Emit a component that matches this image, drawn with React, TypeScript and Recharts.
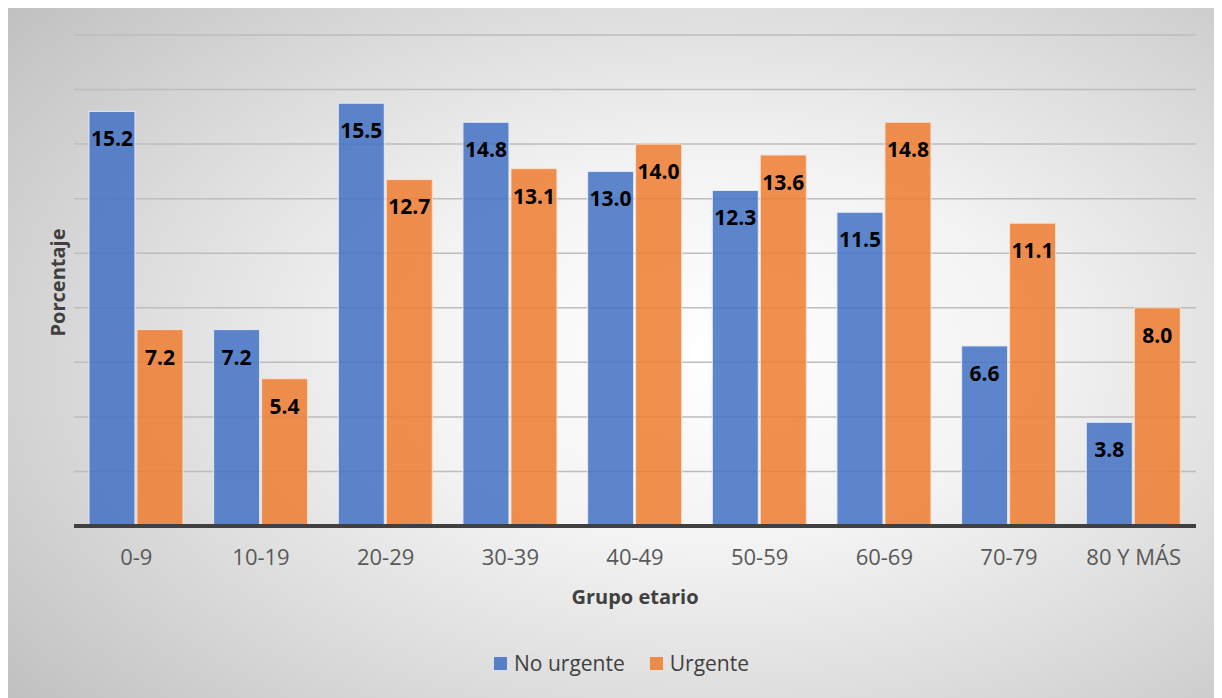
import React from "react";
import { BarChart, Bar, XAxis, YAxis, CartesianGrid, LabelList, Legend } from "recharts";

const categories = ["0-9", "10-19", "20-29", "30-39", "40-49", "50-59", "60-69", "70-79", "80 Y MÁS"];
const noUrgente = [15.2, 7.2, 15.5, 14.8, 13.0, 12.3, 11.5, 6.6, 3.8];
const urgente = [7.2, 5.4, 12.7, 13.1, 14.0, 13.6, 14.8, 11.1, 8.0];
const yTicks = [0, 2, 4, 6, 8, 10, 12, 14, 16, 18];

const seriesNames = ["No urgente", "Urgente"];
const BLUE = "#4472C4";
const ORANGE = "#ED7D31";

const data = categories.map((c, i) => ({ cat: c, noUrgente: noUrgente[i], urgente: urgente[i] }));

const FONT = "'Open Sans', sans-serif";

const LegendContent = () => (
  <div style={{ display: "flex", justifyContent: "center", alignItems: "center", height: 30, paddingLeft: 14, fontFamily: FONT, fontSize: 21, color: "#404040" }}>
    {[BLUE, ORANGE].map((col, i) => (
      <div key={i} style={{ display: "flex", alignItems: "center", marginLeft: i === 0 ? 0 : 25 }}>
        <span style={{ display: "inline-block", width: 13, height: 13, background: col, opacity: 0.88, marginRight: 7 }} />
        <span>{seriesNames[i]}</span>
      </div>
    ))}
  </div>
);

const EmptyTick = () => <g />;

export default function App() {
  return (
    <div
      style={{
        position: "relative",
        width: 1215,
        height: 693,
        marginLeft: -1,
        marginTop: -3,
        boxSizing: "border-box",
        borderTop: "2px solid #b8b8b8",
        borderLeft: "1px solid #c0c0c0",
        background: "radial-gradient(ellipse 75% 80% at 58% 50%, #ffffff 0%, #f3f3f3 35%, #dcdcdc 65%, #c0c0c0 100%)",
      }}
    >
      <BarChart
        width={1215}
        height={693}
        data={data}
        margin={{ top: 30, right: 26, left: 0, bottom: 20 }}
        barCategoryGap="12%"
        barGap={2}
        style={{ position: "absolute", left: -1, top: -2 }}
      >
        <CartesianGrid horizontal vertical={false} stroke="#bdbdbd" strokeWidth={1.5} />
        <XAxis
          dataKey="cat"
          height={122}
          tickLine={false}
          tickSize={0}
          tickMargin={23}
          axisLine={{ stroke: "#404040", strokeWidth: 4 }}
          tick={{ fill: "#595959", fontSize: 22, fontFamily: FONT }}
          interval={0}
          label={{
            content: (props: any) => {
              const vb = props.viewBox;
              return (
                <text
                  x={vb.x + vb.width / 2}
                  y={vb.y + 70}
                  textAnchor="middle"
                  dominantBaseline="central"
                  fill="#404040"
                  fontFamily={FONT}
                  fontWeight={700}
                  fontSize={20}
                >
                  Grupo etario
                </text>
              );
            },
          }}
        />
        <YAxis
          width={67}
          domain={[0, 18]}
          ticks={yTicks}
          interval={0}
          tick={<EmptyTick />}
          tickLine={false}
          axisLine={false}
          label={{
            content: (props: any) => {
              const vb = props.viewBox;
              const cx = vb.x + 50;
              const cy = vb.y + vb.height / 2 + 2;
              return (
                <text
                  x={cx}
                  y={cy}
                  transform={`rotate(-90 ${cx} ${cy})`}
                  textAnchor="middle"
                  dominantBaseline="central"
                  fill="#404040"
                  fontFamily={FONT}
                  fontWeight={700}
                  fontSize={20}
                >
                  Porcentaje
                </text>
              );
            },
          }}
        />
        <Legend verticalAlign="bottom" wrapperStyle={{ left: 0, width: 1215 }} content={<LegendContent />} />
        <Bar dataKey="noUrgente" name={seriesNames[0]} fill={BLUE} fillOpacity={0.86} stroke="#e4eaf6" strokeWidth={1} isAnimationActive={false}>
          <LabelList
            dataKey="noUrgente"
            position="insideTop"
            offset={20}
            formatter={(v: any) => Number(v).toFixed(1)}
            style={{ fill: "#000", fontFamily: FONT, fontWeight: 700, fontSize: 21 }}
          />
        </Bar>
        <Bar dataKey="urgente" name={seriesNames[1]} fill={ORANGE} fillOpacity={0.86} stroke="#f8e0d0" strokeWidth={1} isAnimationActive={false}>
          <LabelList
            dataKey="urgente"
            position="insideTop"
            offset={20}
            formatter={(v: any) => Number(v).toFixed(1)}
            style={{ fill: "#000", fontFamily: FONT, fontWeight: 700, fontSize: 21 }}
          />
        </Bar>
      </BarChart>
    </div>
  );
}
